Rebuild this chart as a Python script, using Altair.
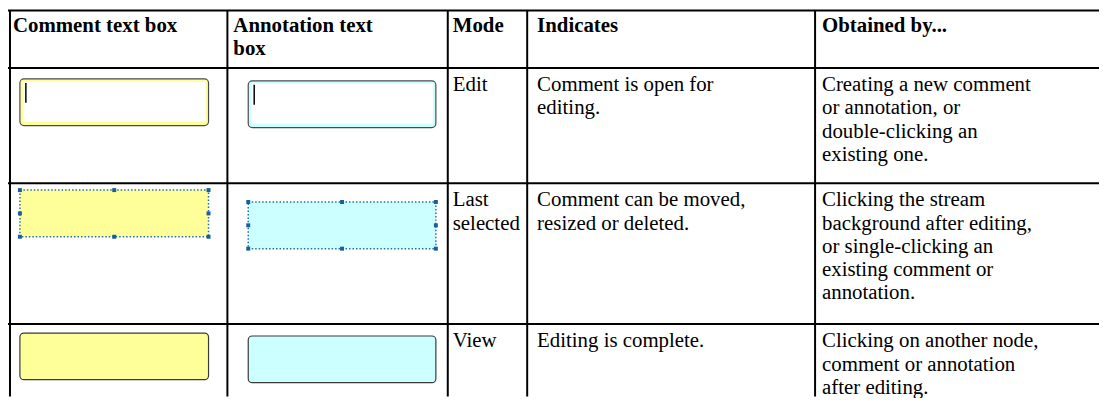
import altair as alt
import pandas as pd

# ---------------- data ----------------
header_lines = [
    ["Comment text box"],
    ["Annotation text", "box"],
    ["Mode"],
    ["Indicates"],
    ["Obtained by..."],
]
modes = [["Edit"], ["Last", "selected"], ["View"]]
indicates = [
    ["Comment is open for", "editing."],
    ["Comment can be moved,", "resized or deleted."],
    ["Editing is complete."],
]
obtained = [
    ["Creating a new comment", "or annotation, or", "double-clicking an", "existing one."],
    ["Clicking the stream", "background after editing,", "or single-clicking an",
     "existing comment or", "annotation."],
    ["Clicking on another node,", "comment or annotation", "after editing."],
]
box_kinds = ["Comment", "Annotation"]
box_states = ["edit", "selected", "view"]

# ---------------- layout / style ----------------
W, H = 1099, 390
col_edges = [2, 221, 443, 523, 813]
text_inset = [3, 6, 5, 10, 7]
row_tops = [-1, 59, 175, 317]
first_baseline = 23.5
line_gap = 23.3
box_left = [10, 21]
box_w = [190, 189]
box_top = [[11, 13], [7, 19], [9, 12]]
box_h = 47
kind_fill = {"Comment": "#FFFF99", "Annotation": "#CCFFFF"}
FONT = "Liberation Serif"
FS = 21

xs = alt.Scale(domain=[0, W], nice=False, zero=False)
ys = alt.Scale(domain=[0, H], nice=False, zero=False, reverse=True)


def X(f="x"):
    return alt.X(f + ":Q", scale=xs, axis=None)


def Y(f="y"):
    return alt.Y(f + ":Q", scale=ys, axis=None)


# ---------------- grid lines ----------------
grid = []
for t in row_tops:
    yy = max(t, 1)
    grid.append({"x": 0, "x2": W, "y": yy, "y2": yy})
for e in col_edges:
    grid.append({"x": e, "x2": e, "y": 1, "y2": H})
grid_df = pd.DataFrame(grid)
grid_layer = alt.Chart(grid_df).mark_rule(color="black", strokeWidth=2).encode(
    x=X(), x2="x2:Q", y=Y(), y2="y2:Q"
)

# ---------------- texts ----------------
rows_text = []
for c, lines in enumerate(header_lines):
    for i, s in enumerate(lines):
        rows_text.append({"x": col_edges[c] + text_inset[c],
                          "y": row_tops[0] + first_baseline + i * line_gap,
                          "t": s, "bold": True})
for r in range(3):
    for c, col in ((2, modes), (3, indicates), (4, obtained)):
        for i, s in enumerate(col[r]):
            rows_text.append({"x": col_edges[c] + text_inset[c],
                              "y": row_tops[r + 1] + first_baseline + i * line_gap,
                              "t": s, "bold": False})
text_df = pd.DataFrame(rows_text)
text_bold = alt.Chart(text_df[text_df.bold]).mark_text(
    align="left", baseline="alphabetic", font=FONT, fontSize=FS, fontWeight="bold", color="black"
).encode(x=X(), y=Y(), text="t:N")
text_norm = alt.Chart(text_df[~text_df.bold]).mark_text(
    align="left", baseline="alphabetic", font=FONT, fontSize=FS, color="black"
).encode(x=X(), y=Y(), text="t:N")

# ---------------- boxes ----------------
boxes = []
for r, st in enumerate(box_states):
    for k, kind in enumerate(box_kinds):
        bx = col_edges[k] + box_left[k]
        by = row_tops[r + 1] + box_top[r][k]
        boxes.append({"state": st, "kind": kind, "fill": kind_fill[kind],
                      "x": bx, "x2": bx + box_w[k], "y": by, "y2": by + box_h})
box_df = pd.DataFrame(boxes)

edit_df = box_df[box_df.state == "edit"].copy()
sel_df = box_df[box_df.state == "selected"].copy()
view_df = box_df[box_df.state == "view"].copy()

edit_outer = alt.Chart(edit_df).mark_rect(
    stroke="#4a4a4a", strokeWidth=1.2, cornerRadius=4
).encode(x=X(), x2="x2:Q", y=Y(), y2="y2:Q", fill=alt.Fill("fill:N", scale=None))

inner = edit_df.copy()
inner["x"] = inner["x"] + 3
inner["x2"] = inner["x2"] - 3
inner["y"] = inner["y"] + 3
inner["y2"] = inner["y2"] - 4
edit_inner = alt.Chart(inner).mark_rect(fill="white", cornerRadius=1).encode(
    x=X(), x2="x2:Q", y=Y(), y2="y2:Q"
)
cur = edit_df.copy()
cur["cx"] = cur["x"] + 6
cur["cy"] = cur["y"] + 4
cur["cy2"] = cur["y"] + 24
cursor = alt.Chart(cur).mark_rule(color="black", strokeWidth=1.5).encode(
    x=X("cx"), y=Y("cy"), y2="cy2:Q"
)

sel_rect = alt.Chart(sel_df).mark_rect(
    stroke="#1f6fae", strokeWidth=1.5, strokeDash=[1.5, 2]
).encode(x=X(), x2="x2:Q", y=Y(), y2="y2:Q", fill=alt.Fill("fill:N", scale=None))

handles = []
for _, b in sel_df.iterrows():
    mx = (b.x + b.x2) / 2
    my = (b.y + b.y2) / 2
    for hx, hy in [(b.x, b.y), (mx, b.y), (b.x2, b.y), (b.x, my), (b.x2, my),
                   (b.x, b.y2), (mx, b.y2), (b.x2, b.y2)]:
        handles.append({"x": hx, "y": hy})
hdf = pd.DataFrame(handles)
handle_layer = alt.Chart(hdf).mark_square(size=16, color="#1a5f9a", opacity=1).encode(
    x=X(), y=Y()
)

view_rect = alt.Chart(view_df).mark_rect(
    stroke="#3a3a3a", strokeWidth=1.2, cornerRadius=4
).encode(x=X(), x2="x2:Q", y=Y(), y2="y2:Q", fill=alt.Fill("fill:N", scale=None))

chart = alt.layer(
    edit_outer, edit_inner, cursor, sel_rect, handle_layer, view_rect,
    text_norm, text_bold, grid_layer
).properties(
    width=W, height=H, padding=0, autosize=alt.AutoSizeParams(type="none"),
    background="white"
).configure_view(strokeWidth=0)

chart.save("out.html", embed_options={"renderer": "svg", "actions": False})
